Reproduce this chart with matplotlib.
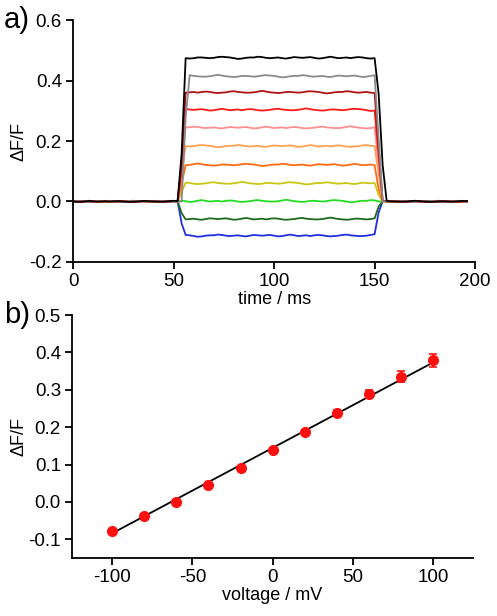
import numpy as np
import matplotlib
matplotlib.use("Agg")
import matplotlib.pyplot as plt

plt.rcParams['font.family'] = ['Liberation Sans', 'DejaVu Sans']
plt.rcParams['axes.unicode_minus'] = False

# ---------------- Panel a data ----------------
trace_levels = [-0.113, -0.058, 0.001, 0.060, 0.121, 0.183, 0.244, 0.303, 0.361, 0.414, 0.475]
trace_colors = ['#1f2fe0', '#1b6b1b', '#22dd22', '#c8c814', '#ff6a10', '#ffa050',
                '#ff8f8f', '#ff1a1a', '#b01212', '#8a8a8a', '#000000']
trace_onset = [52, 52, 52, 52, 52, 52, 52, 53, 53, 54, 53]
trace_rise_end = [55, 55, 55, 56, 56, 56, 56, 56, 56, 57, 56]
trace_offset = [150, 150, 150, 150, 150, 150, 150, 150, 150, 150, 151]
trace_fall_end = [153, 153, 153, 153, 153, 154, 154, 154, 154, 154, 155]
time_ms = np.arange(0, 198, 2)
# hand-read small fluctuations (units of 1e-3 dF/F)
wiggle = [1, 2, 1, -1, -2, -1, 0, 2, 3, 1, 0, -1, -1, 0, 2, 4, 2, 0, -1, -2,
          -1, 1, 1, 0, -1, 0, 2, 3, 2, 1, -1, -3, -2, 0, 1, 1, 3, 2, 0, -1,
          0, 1, -1, -2, 0, 2, 1, 0, 1, 2, 0, -2, -1, 1, 3, 1, -1, 0, 1, -1]

# ---------------- Panel b data ----------------
voltage = [-100, -80, -60, -40, -20, 0, 20, 40, 60, 80, 100]
dff = [-0.077, -0.037, 0.000, 0.044, 0.090, 0.140, 0.188, 0.238, 0.289, 0.335, 0.379]
dff_err = [0.003, 0.003, 0.003, 0.004, 0.004, 0.004, 0.004, 0.007, 0.010, 0.014, 0.017]
fit_v = [-100, 100]
fit_y = [-0.084, 0.373]

fig = plt.figure(figsize=(4.97, 6.16), dpi=100)

def style(ax):
    for s in ['top', 'right']:
        ax.spines[s].set_visible(False)
    for s in ['left', 'bottom']:
        ax.spines[s].set_linewidth(1.3)
    ax.tick_params(direction='out', length=5, width=1.3, labelsize=13.5, pad=3)

# Panel a
ax1 = fig.add_axes([0.147, 0.5747, 0.809, 0.3928])
n = len(wiggle)
for i in range(len(trace_levels)):
    shape = np.interp(time_ms,
                      [0, trace_onset[i], trace_rise_end[i], trace_offset[i], trace_fall_end[i], 196],
                      [0, 0, 1, 1, 0, 0])
    w = np.array([wiggle[(k + 11 * i) % n] for k in range(len(time_ms))]) * 1e-3
    y = trace_levels[i] * shape + w * (0.6 + 0.6 * shape)
    ax1.plot(time_ms, y, color=trace_colors[i], lw=1.3)
ax1.set_xlim(0, 200)
ax1.set_ylim(-0.2, 0.6)
ax1.set_xticks([0, 50, 100, 150, 200])
ax1.set_yticks([-0.2, 0.0, 0.2, 0.4, 0.6])
ax1.set_yticklabels(['-0.2', '0.0', '0.2', '0.4', '0.6'])
ax1.set_xlabel('time / ms', fontsize=13, labelpad=1)
ax1.set_ylabel('ΔF/F', fontsize=13, labelpad=1)
style(ax1)
fig.text(0.008, 0.968, 'a)', fontsize=21, va='center', ha='left')

# Panel b
ax2 = fig.add_axes([0.145, 0.0942, 0.807, 0.3944])
ax2.plot(fit_v, fit_y, color='black', lw=1.3, zorder=2)
ax2.errorbar(voltage, dff, yerr=dff_err, fmt='o', color='#ff1010', ms=7,
             capsize=3, elinewidth=1.2, capthick=1.2, zorder=3)
ax2.set_xlim(-125, 125)
ax2.set_ylim(-0.15, 0.5)
ax2.set_xticks([-100, -50, 0, 50, 100])
ax2.set_yticks([-0.1, 0.0, 0.1, 0.2, 0.3, 0.4, 0.5])
ax2.set_yticklabels(['-0.1', '0.0', '0.1', '0.2', '0.3', '0.4', '0.5'])
ax2.set_xlabel('voltage / mV', fontsize=13, labelpad=1)
ax2.set_ylabel('ΔF/F', fontsize=13, labelpad=1)
style(ax2)
fig.text(0.008, 0.488, 'b)', fontsize=21, va='center', ha='left')

fig.savefig('out.png', dpi=100)
